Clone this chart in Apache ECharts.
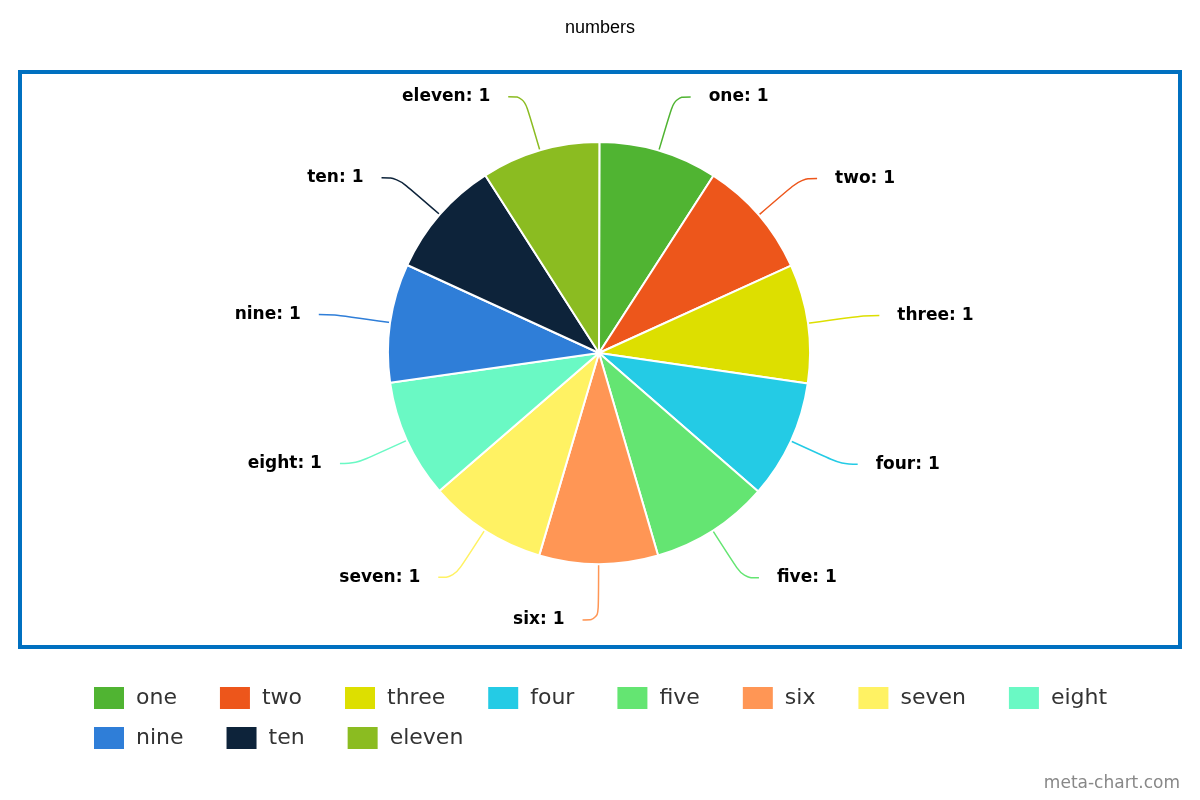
<!DOCTYPE html>
<html><head><meta charset="utf-8">
<script src="https://cdn.jsdelivr.net/npm/echarts@6/dist/echarts.min.js"></script>
<style>html,body{margin:0;padding:0;background:#fff}#c{width:1200px;height:800px}</style>
</head><body><div id="c"></div>
<script>
const categories = ['one','two','three','four','five','six','seven','eight','nine','ten','eleven'];
const values = [1,1,1,1,1,1,1,1,1,1,1];
const colors = ['#50B432','#ED561B','#DDDF00','#24CBE5','#64E572','#FF9655','#FFF263','#6AF9C4','#2F7ED8','#0D233A','#8BBC21'];
const legendRow1 = categories.slice(0, 8);
const legendRow2 = categories.slice(8);
const title = 'numbers';
const watermark = 'meta-chart.com';

const legendBase = {
  left: 92, orient: 'horizontal', padding: 0,
  itemWidth: 32, itemHeight: 24, itemGap: 41,
  icon: 'rect',
  textStyle: { fontFamily: 'DejaVu Sans', fontSize: 22, color: '#333', padding: [2,0,0,6] }
};

const chart = echarts.init(document.getElementById('c'));
chart.setOption({
  animation: false,
  color: colors,
  title: {
    text: title, left: 'center', top: 14,
    textStyle: { fontFamily: 'Liberation Sans, Arial', fontSize: 18, fontWeight: 'normal', color: '#000' }
  },
  graphic: [
    { type: 'rect', shape: { x: 20, y: 72, width: 1160, height: 575 },
      style: { fill: 'none', stroke: '#0070C0', lineWidth: 4 }, silent: true },
    { type: 'text', right: 20, bottom: 8,
      style: { text: watermark, fill: '#888', font: '17px "DejaVu Sans"' } }
  ],
  legend: [
    Object.assign({}, legendBase, { top: 685, data: legendRow1 }),
    Object.assign({}, legendBase, { top: 725, data: legendRow2 })
  ],
  series: [{
    type: 'pie',
    center: [599, 353],
    radius: [0, 211],
    startAngle: 89.9,
    clockwise: true,
    itemStyle: { borderColor: '#fff', borderWidth: 2 },
    label: {
      show: true,
      formatter: '{b}: {c}',
      fontFamily: 'DejaVu Sans',
      fontWeight: 'bold',
      fontSize: 17,
      color: '#000',
      distanceToLabelLine: 18
    },
    labelLine: { show: true, length: 56, length2: 16, smooth: 0.4, lineStyle: { width: 1.5 } },
    emphasis: { disabled: true },
    data: categories.map((c, i) => ({ name: c, value: values[i] }))
  }]
});
</script></body></html>
